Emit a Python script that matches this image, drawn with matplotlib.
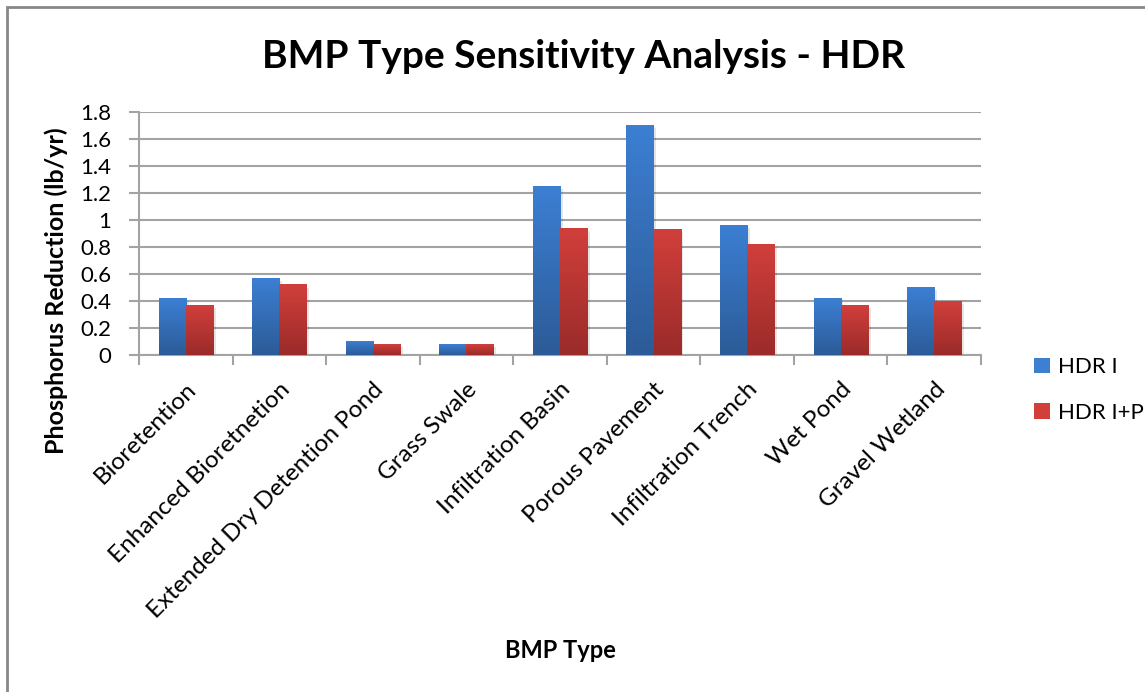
import numpy as np
import matplotlib
matplotlib.use('Agg')
import matplotlib.pyplot as plt
from matplotlib.patches import Patch, Rectangle
from matplotlib.colors import LinearSegmentedColormap
import matplotlib.patheffects as pe

plt.rcParams['font.family'] = ['Lato', 'DejaVu Sans']

# ---- data ----
categories = ['Bioretention', 'Enhanced Bioretnetion', 'Extended Dry Detention Pond',
              'Grass Swale', 'Infiltration Basin', 'Porous Pavement',
              'Infiltration Trench', 'Wet Pond', 'Gravel Wetland']
hdr_i = [0.42, 0.57, 0.10, 0.075, 1.25, 1.70, 0.96, 0.42, 0.50]
hdr_ip = [0.37, 0.52, 0.08, 0.08, 0.94, 0.93, 0.82, 0.37, 0.40]
series_names = ['HDR I', 'HDR I+P']
y_ticks = [0, 0.2, 0.4, 0.6, 0.8, 1, 1.2, 1.4, 1.6, 1.8]

# gradient colours (top, bottom)
blue = ('#3C7FD3', '#2C5B97')
red = ('#D13F3B', '#9A2B29')
grid_col = '#A3A3A3'

W, H = 1145, 692
fig = plt.figure(figsize=(W / 100, H / 100), dpi=100)

# chart border (runs off the right and bottom edges)
fig.patches.append(Rectangle((7 / W, -0.05), 1.2, 1 - 7 / H + 0.05, transform=fig.transFigure,
                             fill=False, edgecolor='#888888', linewidth=2, zorder=0))

ax = fig.add_axes([139 / W, (H - 355) / H, (981 - 139) / W, (355 - 112) / H])

x = np.arange(len(categories))
bw = 0.29


def gradient_bars(xs, vals, cols):
    cmap = LinearSegmentedColormap.from_list('g', [cols[1], cols[0]])
    grad = np.linspace(0, 1, 256).reshape(-1, 1)
    bars = ax.bar(xs, vals, width=bw, color=cols[1], zorder=2,
                  path_effects=[pe.SimplePatchShadow(offset=(2, -2), shadow_rgbFace='k', alpha=0.1),
                                pe.Normal()])
    for b in bars:
        x0, h = b.get_x(), b.get_height()
        ax.imshow(grad, cmap=cmap, origin='lower', aspect='auto',
                  extent=(x0, x0 + b.get_width(), 0, h), zorder=3)
    return bars


gradient_bars(x - bw / 2, hdr_i, blue)
gradient_bars(x + bw / 2, hdr_ip, red)

ax.set_xlim(-0.5, len(categories) - 0.5)
ax.set_ylim(0, 1.8)
ax.set_yticks(y_ticks)
ax.set_yticklabels([f'{v:g}' for v in y_ticks], fontsize=16)
ax.yaxis.grid(True, color=grid_col, linewidth=1.5, zorder=1)
ax.set_axisbelow(True)

ax.set_xticks(x)
ax.set_xticklabels(categories, rotation=45, ha='right', va='top',
                   rotation_mode='anchor', fontsize=17.5)
ax.set_xticks(np.arange(-0.5, len(categories)), minor=True)
ax.tick_params(axis='x', which='major', length=0, pad=17)
ax.tick_params(axis='x', which='minor', length=7, width=1.5, color=grid_col)
ax.tick_params(axis='y', length=7, width=1.5, color=grid_col, pad=13)

for s in ['top', 'right']:
    ax.spines[s].set_visible(False)
for s in ['left', 'bottom']:
    ax.spines[s].set_color(grid_col)
    ax.spines[s].set_linewidth(1.5)

fig.text(584 / W, 1 - 57 / H, 'BMP Type Sensitivity Analysis - HDR',
         ha='center', va='center', fontsize=28, fontweight='bold')
fig.text(56 / W, 1 - 291 / H, 'Phosphorus Reduction (lb/yr)', rotation=90,
         ha='center', va='center', fontsize=18, fontweight='bold')
fig.text(560 / W, 1 - 650 / H, 'BMP Type', ha='center', va='center',
         fontsize=17, fontweight='bold')

handles = [Patch(facecolor=blue[0]), Patch(facecolor=red[0])]
fig.legend(handles, series_names, loc='center left', bbox_to_anchor=(1014 / W, 1 - 390 / H),
           frameon=False, fontsize=16, handlelength=0.72, handleheight=0.72,
           handletextpad=0.36, labelspacing=1.15)

fig.savefig('out.png', dpi=100)
